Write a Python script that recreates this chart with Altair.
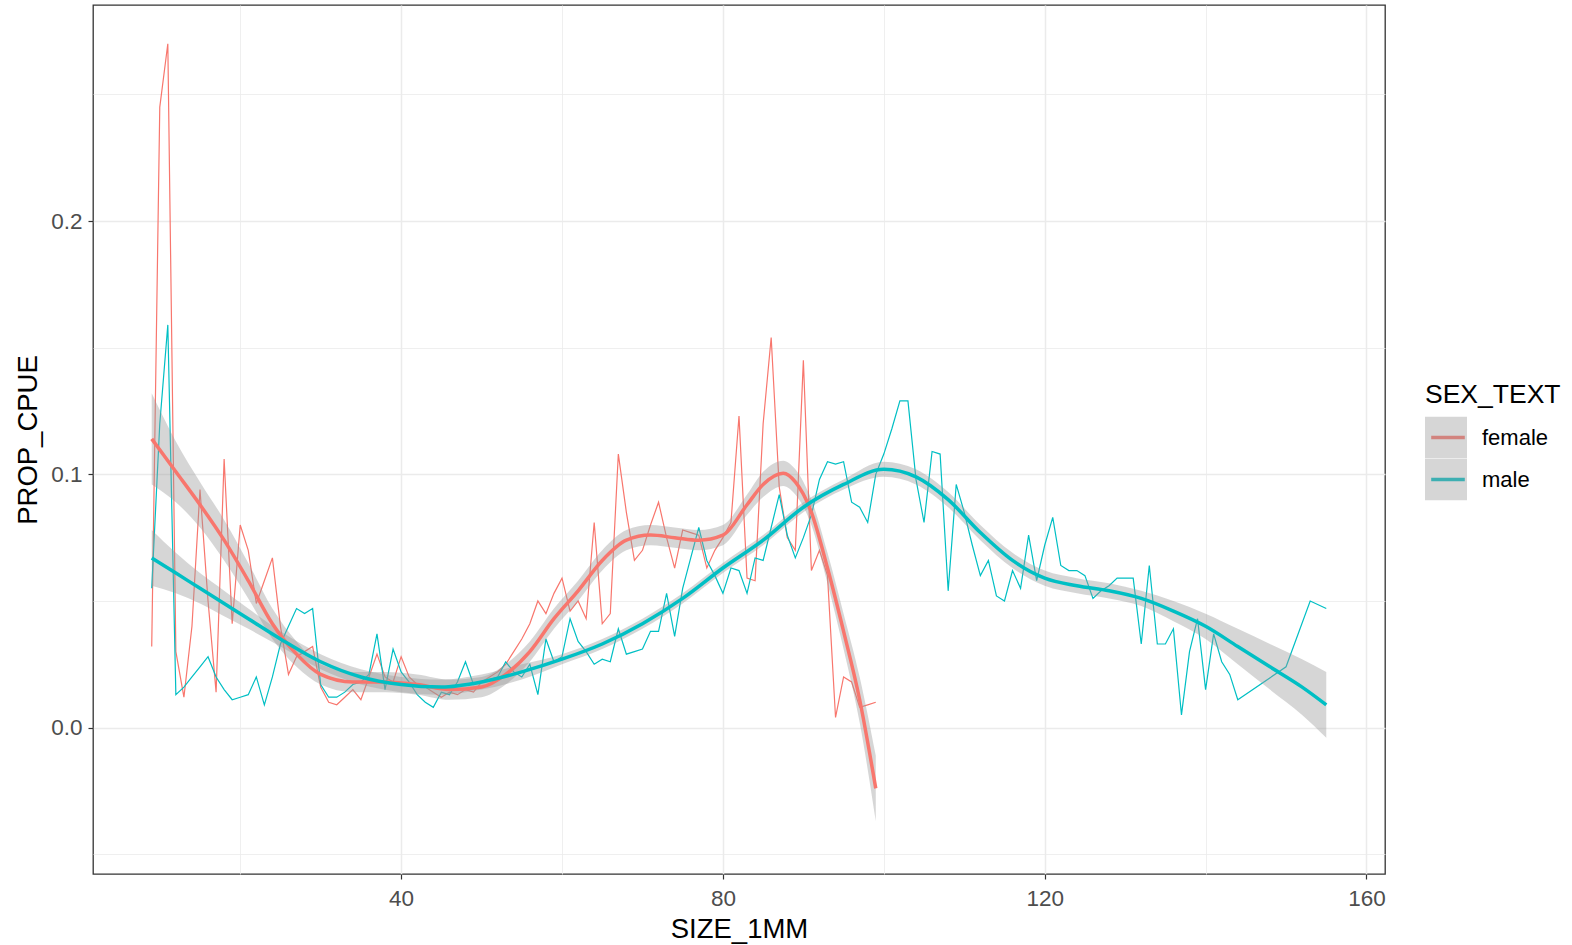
import altair as alt
import pandas as pd

# ---- raw series ----
female_size = list(range(9, 100))
female_prop = [
    0.032, 0.245, 0.270, 0.030, 0.012, 0.040, 0.094, 0.050, 0.014, 0.106,
    0.041, 0.080, 0.070, 0.049, 0.058, 0.067, 0.040, 0.021, 0.028, 0.030,
    0.032, 0.016, 0.010, 0.009, 0.012, 0.015, 0.011, 0.020, 0.029, 0.020,
    0.018, 0.028, 0.020, 0.017, 0.016, 0.014, 0.012, 0.014, 0.013, 0.015,
    0.014, 0.018, 0.020, 0.022, 0.025, 0.030, 0.035, 0.041, 0.050, 0.045,
    0.053, 0.059, 0.046, 0.050, 0.043, 0.081, 0.041, 0.045, 0.108, 0.085,
    0.066, 0.070, 0.080, 0.089, 0.075, 0.063, 0.078, 0.077, 0.076, 0.063,
    0.070, 0.075, 0.081, 0.123, 0.059, 0.058, 0.120, 0.154, 0.095, 0.075,
    0.070, 0.145, 0.062, 0.070, 0.060, 0.004, 0.020, 0.018, 0.008, 0.009,
    0.010,
]

male_size = list(range(9, 145)) + [150, 153, 155]
male_prop = [
    0.055, 0.120, 0.159, 0.013, 0.016, 0.020, 0.024, 0.028, 0.020, 0.015,
    0.011, 0.012, 0.013, 0.020, 0.009, 0.020, 0.033, 0.040, 0.047, 0.045,
    0.047, 0.017, 0.012, 0.012, 0.014, 0.017, 0.018, 0.021, 0.037, 0.015,
    0.031, 0.022, 0.018, 0.013, 0.010, 0.008, 0.014, 0.013, 0.018, 0.026,
    0.017, 0.018, 0.019, 0.020, 0.026, 0.022, 0.020, 0.025, 0.013, 0.035,
    0.026, 0.028, 0.043, 0.034, 0.030, 0.025, 0.027, 0.026, 0.039, 0.029,
    0.030, 0.031, 0.038, 0.038, 0.053, 0.036, 0.055, 0.067, 0.079, 0.066,
    0.060, 0.053, 0.063, 0.062, 0.053, 0.067, 0.066, 0.079, 0.092, 0.076,
    0.067, 0.075, 0.084, 0.098, 0.105, 0.104, 0.105, 0.089, 0.087, 0.081,
    0.100, 0.108, 0.118, 0.129, 0.129, 0.098, 0.081, 0.109, 0.108, 0.054,
    0.096, 0.085, 0.072, 0.060, 0.066, 0.052, 0.050, 0.062, 0.055, 0.076,
    0.058, 0.072, 0.083, 0.064, 0.062, 0.062, 0.060, 0.051, 0.054, 0.056,
    0.059, 0.059, 0.059, 0.033, 0.064, 0.033, 0.033, 0.039, 0.005, 0.030,
    0.043, 0.015, 0.037, 0.026, 0.021, 0.011,
    0.024, 0.050, 0.047,
]

# ---- loess smooth + confidence band ----
female_fit_x = [9, 12, 15, 18, 21, 24, 27, 30, 34, 38, 42, 46, 50, 53, 56, 59,
                62, 65, 68, 71, 74, 77, 80, 83, 85, 87.5, 89, 91, 93, 95, 97, 99]
female_fit_y = [0.114, 0.101, 0.088, 0.074, 0.058, 0.041, 0.029, 0.021, 0.018,
                0.018, 0.017, 0.015, 0.016, 0.021, 0.030, 0.043, 0.054, 0.066,
                0.074, 0.076, 0.075, 0.074, 0.076, 0.088, 0.096, 0.1004, 0.097,
                0.085, 0.063, 0.038, 0.011, -0.024]
female_fit_se = [0.018, 0.012, 0.009, 0.008, 0.007, 0.006, 0.005, 0.004, 0.004,
                 0.004, 0.004, 0.004, 0.004, 0.004, 0.004, 0.004, 0.004, 0.004,
                 0.004, 0.004, 0.004, 0.004, 0.004, 0.004, 0.005, 0.005, 0.005,
                 0.005, 0.006, 0.007, 0.009, 0.013]

male_fit_x = [9, 12, 15, 18, 21, 25, 30, 35, 40, 45, 50, 55, 60, 65, 70, 75, 80,
              85, 90, 95, 100, 104, 108, 112, 116, 120, 124, 128, 132, 136, 140,
              144, 148, 152, 155]
male_fit_y = [0.067, 0.061, 0.055, 0.049, 0.043, 0.035, 0.026, 0.020, 0.017,
              0.016, 0.018, 0.022, 0.027, 0.033, 0.041, 0.051, 0.063, 0.074,
              0.087, 0.096, 0.102, 0.099, 0.090, 0.077, 0.066, 0.059, 0.056,
              0.054, 0.051, 0.046, 0.040, 0.032, 0.024, 0.016, 0.009]
male_fit_se = [0.011, 0.008, 0.006, 0.005, 0.004, 0.003, 0.003, 0.003, 0.003,
               0.003, 0.003, 0.003, 0.002, 0.002, 0.002, 0.002, 0.002, 0.002,
               0.002, 0.002, 0.003, 0.003, 0.003, 0.003, 0.003, 0.003, 0.003,
               0.003, 0.003, 0.004, 0.005, 0.007, 0.009, 0.011, 0.013]

sex_levels = ["female", "male"]
sex_colors = ["#F8766D", "#00BFC4"]
x_ticks = [20, 40, 60, 80, 100, 120, 140, 160]
y_ticks = [-0.05, 0.0, 0.05, 0.1, 0.15, 0.2, 0.25]

raw = pd.DataFrame({
    "SIZE_1MM": female_size + male_size,
    "PROP_CPUE": female_prop + male_prop,
    "SEX_TEXT": ["female"] * len(female_size) + ["male"] * len(male_size),
})

fit = pd.DataFrame({
    "SIZE_1MM": female_fit_x + male_fit_x,
    "PROP_CPUE": female_fit_y + male_fit_y,
    "SE": female_fit_se + male_fit_se,
    "SEX_TEXT": ["female"] * len(female_fit_x) + ["male"] * len(male_fit_x),
})
fit["LO"] = fit["PROP_CPUE"] - fit["SE"]
fit["HI"] = fit["PROP_CPUE"] + fit["SE"]
fit["SEX_BG"] = fit["SEX_TEXT"]

FONT = "Liberation Sans"

x_axis = alt.Axis(
    title="SIZE_1MM", values=x_ticks,
    labelExpr="datum.value % 40 === 0 ? datum.label : ''",
    gridColor="#EBEBEB",
    gridWidth={"condition": {"test": "datum.value % 40 === 0", "value": 1.5}, "value": 0.8},
    tickOpacity={"condition": {"test": "datum.value % 40 === 0", "value": 1}, "value": 0},
    domain=False, tickColor="#333333", tickSize=5, tickWidth=1.2,
    labelFont=FONT, labelFontSize=22.5, labelColor="#4D4D4D", labelPadding=8,
    titleFont=FONT, titleFontSize=27.5, titleColor="black", titleFontWeight="normal",
    titlePadding=6,
)
major_y = "abs(datum.value * 10 - round(datum.value * 10)) < 0.000001"
y_axis = alt.Axis(
    title="PROP_CPUE", values=y_ticks, format=".1f",
    labelExpr=major_y + " ? datum.label : ''",
    gridColor="#EBEBEB",
    gridWidth={"condition": {"test": major_y, "value": 1.5}, "value": 0.8},
    tickOpacity={"condition": {"test": major_y, "value": 1}, "value": 0},
    domain=False, tickColor="#333333", tickSize=5, tickWidth=1.2,
    labelFont=FONT, labelFontSize=22.5, labelColor="#4D4D4D", labelPadding=6,
    titleFont=FONT, titleFontSize=27.5, titleColor="black", titleFontWeight="normal",
    titlePadding=8,
)

x_scale = alt.Scale(domain=[1.7, 162.3], nice=False, zero=False)
y_scale = alt.Scale(domain=[-0.0578, 0.2853], nice=False, zero=False)

common_legend = dict(
    orient="none", legendX=1332, legendY=377, clipHeight=42, rowPadding=0,
    padding=0, titleFont=FONT, titleFontSize=26.5, titleColor="black",
    titleFontWeight="normal", titlePadding=8, labelFont=FONT, labelFontSize=22,
    labelColor="black", labelOffset=11, symbolSize=1764,
)
stroke_legend = alt.Legend(title="SEX_TEXT", symbolType="M-0.8,0H0.8",
                           symbolStrokeWidth=3.5, **common_legend)
fill_legend = alt.Legend(title="SEX_TEXT", symbolType="square", symbolOpacity=0.4,
                         symbolStrokeWidth=0, titleOpacity=0, labelExpr="''",
                         **common_legend)

stroke_enc = alt.Stroke("SEX_TEXT:N", scale=alt.Scale(domain=sex_levels, range=sex_colors),
                        legend=stroke_legend)

raw_lines = alt.Chart(raw).mark_line(strokeWidth=1.2, clip=True).encode(
    x=alt.X("SIZE_1MM:Q", scale=x_scale, axis=x_axis),
    y=alt.Y("PROP_CPUE:Q", scale=y_scale, axis=y_axis),
    stroke=stroke_enc,
    order="SIZE_1MM:Q",
)

# the band's fill scale uses its own field (domain taken from the data) so its
# legend is kept apart from the line legend and drawn beneath it as the grey key
band = alt.Chart(fit).mark_area(opacity=0.4, interpolate="monotone", clip=True).encode(
    x=alt.X("SIZE_1MM:Q", scale=x_scale, axis=x_axis),
    y=alt.Y("LO:Q", scale=y_scale, axis=y_axis),
    y2="HI:Q",
    fill=alt.Fill("SEX_BG:N", scale=alt.Scale(range=["#999999", "#999999"]),
                  legend=fill_legend),
)

smooth = alt.Chart(fit).mark_line(strokeWidth=3.5, interpolate="monotone", clip=True).encode(
    x=alt.X("SIZE_1MM:Q", scale=x_scale, axis=x_axis),
    y=alt.Y("PROP_CPUE:Q", scale=y_scale, axis=y_axis),
    stroke=stroke_enc,
    order="SIZE_1MM:Q",
)

chart = alt.layer(raw_lines, band, smooth).properties(
    width=1292, height=869,
    padding={"left": 93, "top": 5, "right": 187, "bottom": 71},
    autosize=alt.AutoSizeParams(type="none"),
    background="white",
).configure_view(stroke="#333333", strokeWidth=1.3)

chart.save("out.html", embed_options={"renderer": "svg", "actions": False})
